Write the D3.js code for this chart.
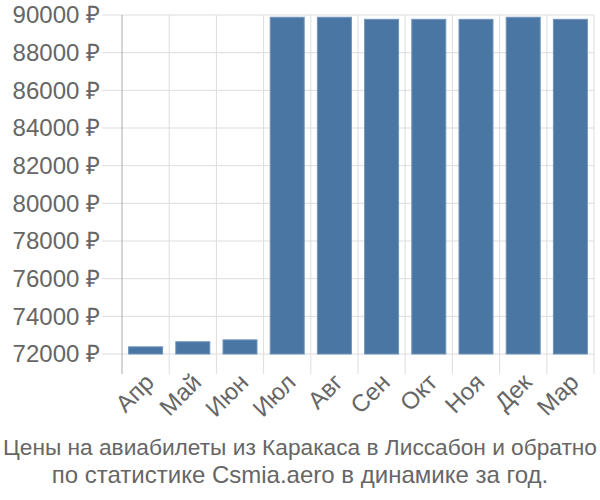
<!DOCTYPE html>
<html><head><meta charset="utf-8">
<script src="https://cdn.jsdelivr.net/npm/d3@7"></script>
<style>body{margin:0;background:#fff}svg{display:block;font-family:"Liberation Sans",Arial,sans-serif}</style>
</head><body><svg id="c" width="600" height="500"></svg>
<script>
const categories = ["Апр","Май","Июн","Июл","Авг","Сен","Окт","Ноя","Дек","Мар"];
const prices = [72380, 72650, 72750, 89880, 89880, 89770, 89770, 89770, 89880, 89770];
const yTicks = [72000,74000,76000,78000,80000,82000,84000,86000,88000,90000];
const titleLines = ["Цены на авиабилеты из Каракаса в Лиссабон и обратно","по статистике Csmia.aero в динамике за год."];

const svg = d3.select("#c");
const pL = 122, pR = 594, pT = 15, pB = 354;
const x = d3.scaleBand().domain(categories).range([pL, pR]).paddingInner(0.28).paddingOuter(0.14);
const y = d3.scaleLinear().domain([72000, 90000]).range([pB, pT]);
const grid = "#dddddd", txt = "#666666";

svg.append("g").selectAll("line").data(yTicks).join("line")
  .attr("x1", pL-20).attr("x2", pR).attr("y1", d=>y(d)).attr("y2", d=>y(d))
  .attr("stroke", grid).attr("stroke-width", 1);
const vx = d3.range(categories.length+1).map(i => pL + i*(pR-pL)/categories.length);
svg.append("g").selectAll("line").data(vx.slice(1)).join("line")
  .attr("x1", d=>d).attr("x2", d=>d).attr("y1", pT).attr("y2", pB+20)
  .attr("stroke", grid).attr("stroke-width", 1);
svg.append("line").attr("x1", pL).attr("x2", pL).attr("y1", pT).attr("y2", pB+20)
  .attr("stroke", "#aaaaaa").attr("stroke-width", 1);

svg.append("g").selectAll("rect").data(categories).join("rect")
  .attr("x", d=>x(d)).attr("width", x.bandwidth())
  .attr("y", (d,i)=>y(prices[i])).attr("height", (d,i)=>pB - y(prices[i]))
  .attr("fill", "#4a76a4").attr("stroke", "#6f93bb").attr("stroke-width", 1);

svg.append("g").selectAll("text").data(yTicks).join("text")
  .attr("x", 100).attr("y", d=>y(d)).attr("dy", "0.35em").attr("text-anchor", "end")
  .attr("font-size", 24).attr("fill", txt).text(d=>d+" ₽");

svg.append("g").selectAll("text").data(categories).join("text")
  .attr("transform", d=>`translate(${x(d)+x.bandwidth()/2-2},${pB+18}) rotate(-45)`)
  .attr("text-anchor", "end").attr("dy", "0.7em")
  .attr("font-size", 24).attr("fill", txt).text(d=>d);

svg.append("g").selectAll("text").data(titleLines).join("text")
  .attr("x", 300).attr("y", (d,i)=>455+i*28).attr("text-anchor", "middle")
  .attr("font-size", (d,i)=> i===0 ? 22.7 : 24).attr("fill", txt).text(d=>d);
</script></body></html>
